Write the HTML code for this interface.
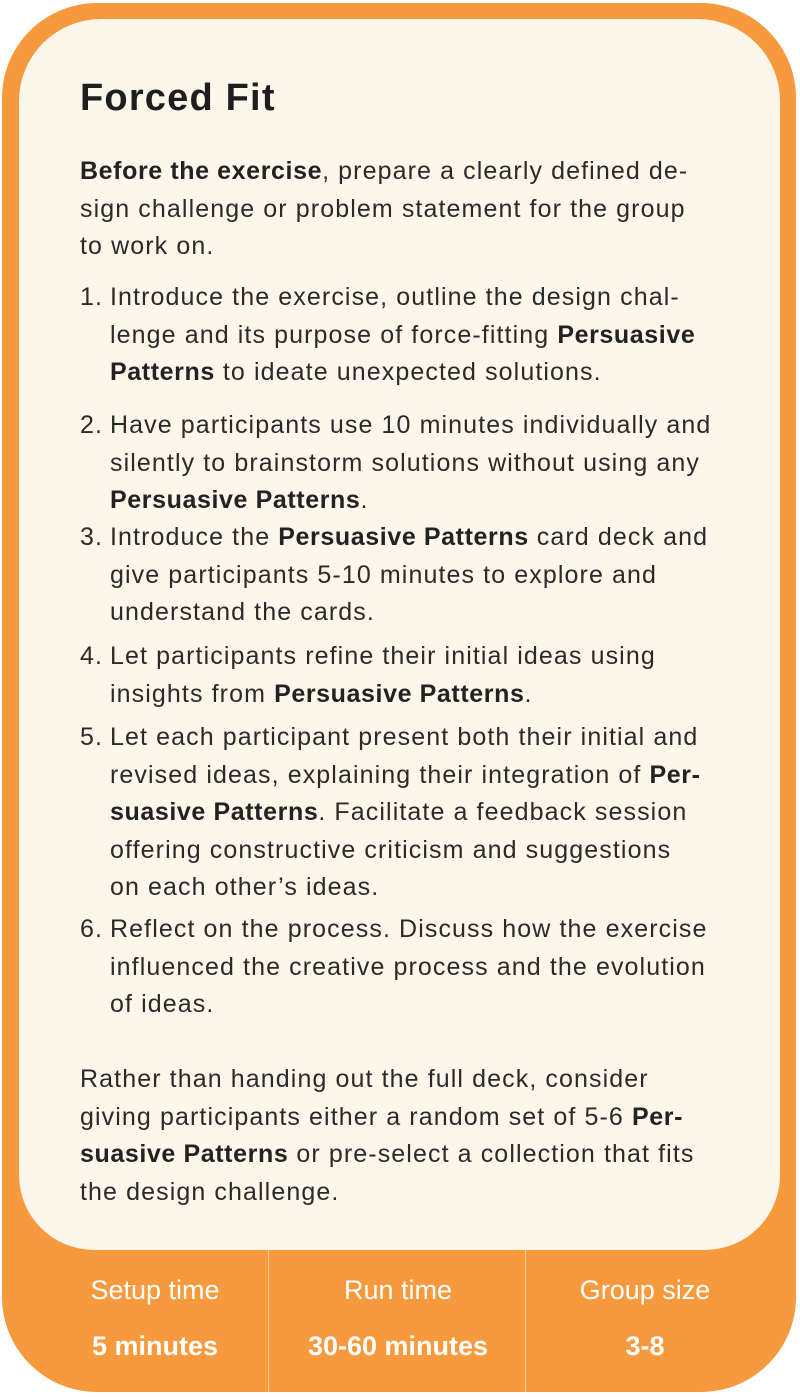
<!DOCTYPE html>
<html><head><meta charset="utf-8"><style>
body{margin:0;width:800px;height:1397px;background:#fff;position:relative;font-family:"Liberation Sans",sans-serif;overflow:hidden}
#outer{position:absolute;left:2px;top:3px;width:794px;height:1389px;background:#F7993D;border-radius:95px}
#inner{position:absolute;left:19px;top:19px;width:761px;height:1231px;background:#FDF6EA;border-radius:82px 82px 75px 75px}
.t{position:absolute;left:80px;font-size:25px;letter-spacing:1.1px;line-height:37.5px;color:#2a2a2a;white-space:nowrap}
.t b{font-weight:bold;color:#222;letter-spacing:0.6px}
.n{position:absolute;left:0}
h1{position:absolute;left:80px;top:77px;margin:0;font-size:38px;letter-spacing:1.2px;color:#1e1e1e}
.div{position:absolute;top:1250px;width:1px;height:142px;background:#fbd2a6}
.lab{position:absolute;top:1275px;width:240px;text-align:center;color:#fff;font-size:27px}
.val{position:absolute;top:1331px;width:240px;text-align:center;color:#fff;font-size:27px;font-weight:bold}
</style></head><body>
<div id="outer"></div>
<div id="inner"></div>
<h1>Forced Fit</h1>
<div class="t" style="top:153px"><b>Before the exercise</b>, prepare a clearly defined de-<br>sign challenge or problem statement for the group<br>to work on.</div>
<div class="t" style="top:279px"><span class="n">1.</span><div style="margin-left:30px">Introduce the exercise, outline the design chal-<br>lenge and its purpose of force-fitting <b>Persuasive<br>Patterns</b> to ideate unexpected solutions.</div></div>
<div class="t" style="top:407px"><span class="n">2.</span><div style="margin-left:30px">Have participants use 10 minutes individually and<br>silently to brainstorm solutions without using any<br><b>Persuasive Patterns</b>.</div></div>
<div class="t" style="top:519px"><span class="n">3.</span><div style="margin-left:30px">Introduce the <b>Persuasive Patterns</b> card deck and<br>give participants 5-10 minutes to explore and<br>understand the cards.</div></div>
<div class="t" style="top:638px"><span class="n">4.</span><div style="margin-left:30px">Let participants refine their initial ideas using<br>insights from <b>Persuasive Patterns</b>.</div></div>
<div class="t" style="top:719px"><span class="n">5.</span><div style="margin-left:30px">Let each participant present both their initial and<br>revised ideas, explaining their integration of <b>Per-<br>suasive Patterns</b>. Facilitate a feedback session<br>offering constructive criticism and suggestions<br>on each other’s ideas.</div></div>
<div class="t" style="top:911px"><span class="n">6.</span><div style="margin-left:30px">Reflect on the process. Discuss how the exercise<br>influenced the creative process and the evolution<br>of ideas.</div></div>
<div class="t" style="top:1061px">Rather than handing out the full deck, consider<br>giving participants either a random set of 5-6 <b>Per-<br>suasive Patterns</b> or pre-select a collection that fits<br>the design challenge.</div>
<div class="div" style="left:268px"></div>
<div class="div" style="left:525px"></div>
<div class="lab" style="left:35px">Setup time</div>
<div class="val" style="left:35px">5 minutes</div>
<div class="lab" style="left:278px">Run time</div>
<div class="val" style="left:278px">30-60 minutes</div>
<div class="lab" style="left:525px">Group size</div>
<div class="val" style="left:525px">3-8</div>
</body></html>
